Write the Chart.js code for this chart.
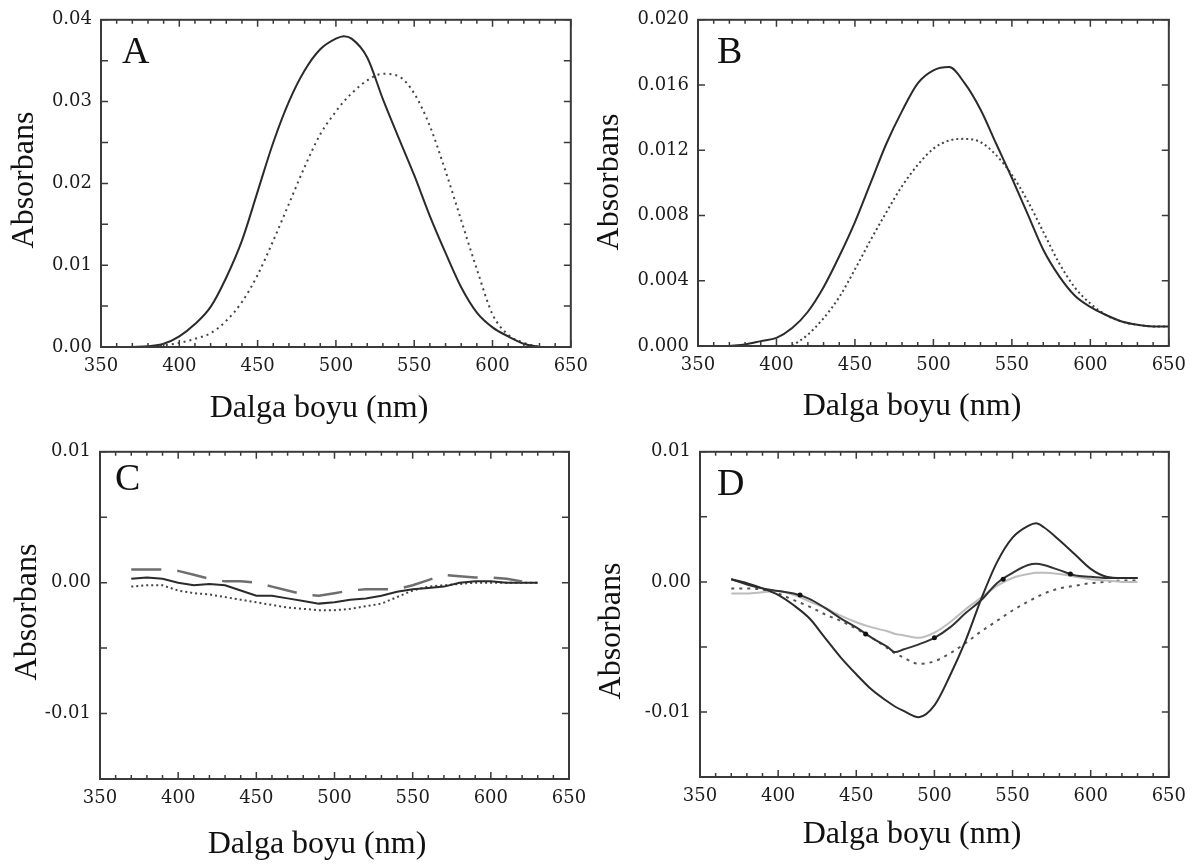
<!DOCTYPE html>
<html lang="tr">
<head>
<meta charset="UTF-8">
<title>Absorbans spektrumları</title>
<script src="https://cdn.jsdelivr.net/npm/chart.js"></script>
<style>
  html, body { margin: 0; padding: 0; background: #fff; }
  #wrap { position: relative; width: 1195px; height: 865px; }
  #wrap canvas { position: absolute; }
</style>
</head>
<body>
<div id="wrap">
  <canvas id="panelA" width="597" height="432" style="left:0;top:0"></canvas>
  <canvas id="panelB" width="598" height="432" style="left:597px;top:0"></canvas>
  <canvas id="panelC" width="597" height="433" style="left:0;top:432px"></canvas>
  <canvas id="panelD" width="598" height="433" style="left:597px;top:432px"></canvas>
</div>

<script>
// --- veriler (okunan değerler) ---
const wlA = [370,380,390,400,410,420,430,440,450,460,470,480,490,500,505,510,520,530,540,550,560,570,580,590,600,610,620,630];
const aSolid = [0.0000,0.0001,0.0004,0.0013,0.0028,0.0049,0.0085,0.0130,0.0190,0.0250,0.0300,0.0338,0.0364,0.0377,0.0380,0.0377,0.0354,0.0303,0.0256,0.0210,0.0160,0.0115,0.0073,0.0042,0.0024,0.0013,0.0004,0.0000];
const aDotted = [null,0.0000,0.0002,0.0005,0.0010,0.0017,0.0032,0.0055,0.0088,0.0130,0.0175,0.0220,0.0260,0.0288,0.0300,0.0310,0.0326,0.0334,0.0331,0.0310,0.0270,0.0215,0.0155,0.0095,0.0040,0.0015,0.0005,0.0000];

const wlB = [370,380,390,400,410,420,430,440,450,460,470,480,490,500,510,520,530,540,550,560,570,580,590,600,610,620,630,640,650];
const bSolid = [0.0000,0.0001,0.0003,0.0005,0.0011,0.0021,0.0036,0.0055,0.0076,0.0100,0.0124,0.0144,0.0161,0.0169,0.0171,0.0161,0.0145,0.0124,0.0103,0.0081,0.0059,0.0043,0.0031,0.0024,0.0019,0.0015,0.0013,0.0012,0.0012];
const bDotted = [null,null,null,null,0.0000,0.0007,0.0017,0.0030,0.0047,0.0065,0.0082,0.0098,0.0111,0.0121,0.0126,0.0127,0.0125,0.0117,0.0105,0.0089,0.0070,0.0051,0.0036,0.0026,0.0019,0.0015,0.0013,0.0012,0.0012];

const wlC = [370,380,390,400,410,420,430,440,450,460,470,480,490,500,510,520,530,540,550,560,570,580,590,600,610,620,630];
const cDashed = [0.0010,0.0010,0.0010,0.0009,0.0006,0.0003,0.0001,0.0001,0.0000,-0.0003,-0.0006,-0.0009,-0.0010,-0.0008,-0.0006,-0.0005,-0.0005,-0.0005,-0.0002,0.0002,0.0006,0.0005,0.0004,0.0004,0.0003,0.0001,null];
const cSolid = [0.0003,0.0004,0.0003,0.0000,-0.0002,-0.0001,-0.0002,-0.0006,-0.0010,-0.0010,-0.0012,-0.0014,-0.0016,-0.0015,-0.0013,-0.0012,-0.0010,-0.0007,-0.0005,-0.0004,-0.0003,0.0000,0.0001,0.0001,0.0000,0.0000,0.0000];
const cDotted = [-0.0003,-0.0002,-0.0002,-0.0006,-0.0008,-0.0009,-0.0011,-0.0013,-0.0015,-0.0017,-0.0019,-0.0020,-0.0021,-0.0021,-0.0020,-0.0018,-0.0016,-0.0011,-0.0006,-0.0003,-0.0002,-0.0001,0.0000,0.0000,0.0000,0.0000,0.0000];

const wlD = [370,380,390,400,410,420,430,440,450,460,470,475,480,490,500,510,520,530,540,550,560,565,570,580,590,600,610,620,630];
const dBig = [0.0002,-0.0001,-0.0005,-0.0010,-0.0018,-0.0028,-0.0043,-0.0058,-0.0071,-0.0083,-0.0092,-0.0096,-0.0099,-0.0104,-0.0095,-0.0072,-0.0045,-0.0013,0.0015,0.0034,0.0043,0.0045,0.0042,0.0032,0.0021,0.0010,0.0004,0.0003,0.0003];
const dMid = [0.0002,-0.0002,-0.0005,-0.0007,-0.0009,-0.0013,-0.0020,-0.0028,-0.0035,-0.0043,-0.0050,-0.0054,-0.0052,-0.0048,-0.0043,-0.0035,-0.0024,-0.0014,-0.0001,0.0007,0.0013,0.0014,0.0013,0.0009,0.0005,0.0004,0.0003,0.0003,0.0003];
const dGray = [-0.0009,-0.0009,-0.0008,-0.0007,-0.0010,-0.0015,-0.0020,-0.0026,-0.0031,-0.0035,-0.0038,-0.0040,-0.0041,-0.0043,-0.0039,-0.0031,-0.0021,-0.0012,-0.0003,0.0003,0.0006,0.0007,0.0007,0.0006,0.0004,0.0002,0.0001,0.0000,0.0000];
const dDot = [-0.0005,-0.0005,-0.0006,-0.0009,-0.0014,-0.0019,-0.0025,-0.0030,-0.0036,-0.0043,-0.0051,-0.0055,-0.0058,-0.0063,-0.0061,-0.0055,-0.0047,-0.0038,-0.0030,-0.0022,-0.0015,-0.0012,-0.0009,-0.0005,-0.0003,-0.0001,0.0000,0.0001,0.0001];
const dMarkX = [414, 456, 500, 544, 587];
const dMarkY = [-0.0010, -0.0040, -0.0043, 0.0002, 0.0006];

const xTicks = [350, 400, 450, 500, 550, 600, 650];

// --- stil ---
const SERIF = '"Liberation Serif", "Times New Roman", serif';
const TICKFONT = '"DejaVu Serif", serif';
Chart.defaults.font.family = SERIF;
Chart.defaults.color = '#1c1c1c';

const solid = { borderColor: '#2b2b2b', borderWidth: 2 };
const dotted = { borderColor: '#444', borderWidth: 2, borderDash: [2, 4] };

function serie(xs, ys, style) {
    return Object.assign({
        data: xs.map((x, i) => ({ x: x, y: ys[i] })),
        pointRadius: 0,
        fill: false,
        cubicInterpolationMode: 'monotone'
    }, style);
}

// çerçeve, içe dönük tikler ve yazılar
const frame = {
    id: 'frame',
    afterDraw(chart, args, o) {
        const { ctx, chartArea: a, scales: { x, y } } = chart;
        ctx.save();
        ctx.strokeStyle = '#3a3a3a';
        ctx.lineWidth = 2;
        ctx.strokeRect(a.left, a.top, a.right - a.left, a.bottom - a.top);
        ctx.lineWidth = 1.5;
        ctx.beginPath();
        for (let nm = x.min; nm <= x.max; nm += 10) {
            const px = x.getPixelForValue(nm);
            const len = nm % 50 === 0 ? 7 : 4;
            ctx.moveTo(px, a.bottom); ctx.lineTo(px, a.bottom - len);
            ctx.moveTo(px, a.top); ctx.lineTo(px, a.top + len);
        }
        y.ticks.forEach(t => {
            const py = y.getPixelForValue(t.value);
            ctx.moveTo(a.left, py); ctx.lineTo(a.left + 7, py);
            ctx.moveTo(a.right, py); ctx.lineTo(a.right - 7, py);
        });
        ctx.stroke();

        ctx.fillStyle = '#111';
        ctx.textBaseline = 'alphabetic';
        ctx.textAlign = 'left';
        ctx.font = '38px ' + SERIF;
        ctx.fillText(o.letter, o.letterX, o.letterY);
        ctx.font = '32px ' + SERIF;
        ctx.textAlign = 'center';
        ctx.fillText('Dalga boyu (nm)', o.xTitleX, o.xTitleY);
        ctx.translate(o.yTitleX, o.yTitleY);
        ctx.rotate(-Math.PI / 2);
        ctx.fillText('Absorbans', 0, 0);
        ctx.restore();
    }
};

function panel(id, cfg) {
    const ctx = document.getElementById(id).getContext('2d');
    new Chart(ctx, {
        type: 'line',
        data: { datasets: cfg.datasets },
        options: {
            responsive: false,
            animation: false,
            layout: { padding: { left: 0, right: cfg.padRight, top: cfg.padTop, bottom: 0 } },
            plugins: {
                legend: { display: false },
                tooltip: { enabled: false },
                frame: cfg.text
            },
            scales: {
                x: {
                    type: 'linear', min: 350, max: 650,
                    afterBuildTicks: s => { s.ticks = xTicks.map(v => ({ value: v })); },
                    ticks: { font: { family: TICKFONT, size: 18 }, padding: 9, maxRotation: 0, autoSkip: false },
                    grid: { display: false, drawTicks: false },
                    border: { display: false },
                    afterFit: s => { s.height = cfg.xHeight; }
                },
                y: {
                    min: cfg.yMin, max: cfg.yMax,
                    ticks: {
                        stepSize: cfg.yStep, autoSkip: false, font: { family: TICKFONT, size: 18 }, padding: 9,
                        callback: cfg.yLabel
                    },
                    grid: { display: false, drawTicks: false },
                    border: { display: false },
                    afterFit: s => { s.width = cfg.yWidth; }
                }
            }
        },
        plugins: [frame]
    });
}

const label2 = v => Math.abs(v * 100 - Math.round(v * 100)) < 1e-6 ? v.toFixed(2) : '';

panel('panelA', {
    datasets: [serie(wlA, aSolid, solid), serie(wlA, aDotted, dotted)],
    yMin: 0, yMax: 0.04, yStep: 0.005, yLabel: label2,
    yWidth: 101, xHeight: 85, padRight: 26, padTop: 13,
    text: { letter: 'A', letterX: 122, letterY: 63, xTitleX: 319, xTitleY: 417, yTitleX: 33, yTitleY: 180 }
});

panel('panelB', {
    datasets: [serie(wlB, bSolid, solid), serie(wlB, bDotted, Object.assign({}, dotted, { borderDash: [2, 3] }))],
    yMin: 0, yMax: 0.02, yStep: 0.004, yLabel: v => v.toFixed(3),
    yWidth: 101, xHeight: 86, padRight: 25, padTop: 13,
    text: { letter: 'B', letterX: 120, letterY: 63, xTitleX: 315, xTitleY: 415, yTitleX: 21, yTitleY: 182 }
});

panel('panelC', {
    datasets: [
        serie(wlC, cDashed, { borderColor: '#6e6e6e', borderWidth: 2.5, borderDash: [30, 16], cubicInterpolationMode: 'default', tension: 0 }),
        serie(wlC, cSolid, Object.assign({}, solid, { cubicInterpolationMode: 'default', tension: 0 })),
        serie(wlC, cDotted, { borderColor: '#444', borderWidth: 2, borderDash: [2, 3], cubicInterpolationMode: 'default', tension: 0 })
    ],
    yMin: -0.015, yMax: 0.01, yStep: 0.005, yLabel: label2,
    yWidth: 100, xHeight: 86, padRight: 28, padTop: 13,
    text: { letter: 'C', letterX: 115, letterY: 58, xTitleX: 317, xTitleY: 421, yTitleX: 36, yTitleY: 180 }
});

panel('panelD', {
    datasets: [
        {
            type: 'scatter',
            data: dMarkX.map((x, i) => ({ x: x, y: dMarkY[i] })),
            pointRadius: 2.5, pointBackgroundColor: '#111', pointBorderWidth: 0, showLine: false
        },
        serie(wlD, dBig, solid),
        serie(wlD, dMid, { borderColor: '#333', borderWidth: 2 }),
        serie(wlD, dGray, { borderColor: '#bdbdbd', borderWidth: 2 }),
        serie(wlD, dDot, { borderColor: '#555', borderWidth: 2, borderDash: [3, 5] })
    ],
    yMin: -0.015, yMax: 0.01, yStep: 0.005, yLabel: label2,
    yWidth: 103, xHeight: 88, padRight: 25, padTop: 11,
    text: { letter: 'D', letterX: 120, letterY: 63, xTitleX: 315, xTitleY: 411, yTitleX: 23, yTitleY: 199 }
});
</script>
</body>
</html>
